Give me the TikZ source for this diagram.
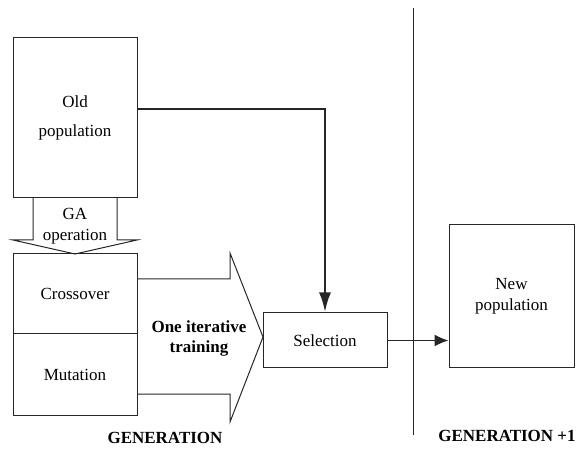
\documentclass[tikz,border=0pt]{standalone}
\usepackage{fontspec}
\setmainfont{Liberation Serif}
\usetikzlibrary{arrows.meta}

\begin{document}
\begin{tikzpicture}[x=0.5pt, y=-0.5pt,
  box/.style={draw=black!85, line width=0.5pt, inner sep=0pt, align=center,
              font=\fontsize{8.5}{10.5}\selectfont},
  blockarrow/.style={draw=black!85, line width=0.5pt, line join=miter},
  flow/.style={black!85, line width=1.4pt, -{Latex[length=10pt,width=6pt]}},
  link/.style={black!85, line width=0.7pt, -{Latex[length=7pt,width=6pt]}},
  lbl/.style={align=center, font=\fontsize{8.5}{10.5}\selectfont},
  genlbl/.style={font=\bfseries\fontsize{8.5}{10}\selectfont}]

  \useasboundingbox (0,0) rectangle (577,453);

  % population boxes and operators
  \node[box, minimum width=62pt, minimum height=80pt] (old) at (75,118) {Old\\[4pt]population};
  \node[box, minimum width=62pt, minimum height=40pt] (cross) at (75,294) {Crossover};
  \node[box, minimum width=62pt, minimum height=40.5pt] (mut) at (75,374.5) {Mutation};
  \node[box, minimum width=62pt, minimum height=27.5pt] (sel) at (325,340.5) {Selection};
  \node[box, minimum width=62.5pt, minimum height=71.5pt] (new) at (511.5,296.5) {New\\population};

  % GA operation block arrow (old -> operators)
  \draw[blockarrow] (33,198) -- (33,240) -- (13,240) -- (75,254)
    -- (137,240) -- (117,240) -- (117,198);
  \node[lbl] (gaop) at (75,226) {GA\\operation};

  % one iterative training block arrow (operators -> selection)
  \draw[blockarrow] (137,279) -- (230,279) -- (230,253) -- (263,337)
    -- (230,422) -- (230,394) -- (137,394);
  \node[lbl, font=\bfseries\fontsize{8.5}{10}\selectfont] (train) at (199,338) {One iterative\\training};

  % connectors
  \draw[flow] ([yshift=4.5pt]old.east) -| (sel.north);
  \draw[link] (sel.east) -- (sel.east -| new.west);

  % generation divider
  \draw[black!85, line width=0.5pt] (413,8) -- (413,435);
  \node[genlbl] (gen) at (165,438) {GENERATION};
  \node[genlbl] (gennext) at (507,436) {GENERATION +1};
\end{tikzpicture}
\end{document}
